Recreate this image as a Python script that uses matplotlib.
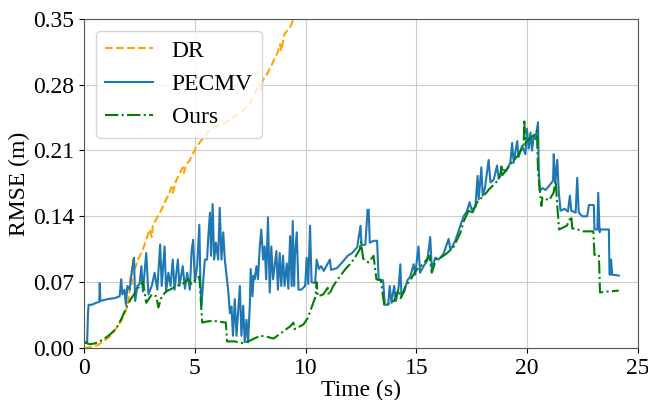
import numpy as np
import matplotlib
matplotlib.use('Agg')
import matplotlib.pyplot as plt

plt.rcParams['font.family'] = ['Liberation Serif', 'DejaVu Serif']
plt.rcParams['font.size'] = 17

# ---- data: (time s, RMSE m) ----
dr_pts = [
    (0.0, 0.0), (0.3, 0.001), (0.6, 0.003), (0.85, 0.007), (1.1, 0.011), (1.3, 0.016),
    (1.5, 0.023), (1.7, 0.030), (1.9, 0.041), (2.0, 0.050), (2.05, 0.062), (2.1, 0.076),
    (2.15, 0.068), (2.2, 0.094), (2.3, 0.085), (2.45, 0.095), (2.65, 0.105), (2.8, 0.115),
    (2.95, 0.126), (3.05, 0.118), (3.1, 0.130), (3.25, 0.137), (3.4, 0.143), (3.55, 0.150),
    (3.7, 0.158), (3.85, 0.165), (3.95, 0.171), (4.0, 0.165), (4.15, 0.178), (4.3, 0.185),
    (4.45, 0.192), (4.5, 0.186), (4.6, 0.195), (4.75, 0.199), (4.9, 0.206), (5.05, 0.213),
    (5.2, 0.218), (5.4, 0.224), (5.65, 0.231), (5.95, 0.236), (6.2, 0.238), (6.4, 0.240),
    (6.65, 0.244), (6.85, 0.247), (7.15, 0.252), (7.45, 0.259), (7.7, 0.270), (7.9, 0.281),
    (8.0, 0.275), (8.05, 0.284), (8.25, 0.291), (8.55, 0.305), (8.75, 0.315), (8.85, 0.323),
    (8.9, 0.316), (9.05, 0.334), (9.3, 0.341), (9.5, 0.352),
]

pecmv_pts = [
    (0.0, 0.006), (0.13, 0.006), (0.17, 0.038), (0.2, 0.046), (0.35, 0.046), (0.53, 0.048),
    (0.68, 0.049), (0.7, 0.069), (0.73, 0.050), (1.06, 0.052), (1.37, 0.053), (1.6, 0.055),
    (1.67, 0.073), (1.72, 0.057), (1.82, 0.062), (1.88, 0.046), (1.95, 0.066), (2.05, 0.062),
    (2.15, 0.082), (2.25, 0.096), (2.3, 0.050), (2.4, 0.066), (2.5, 0.068), (2.58, 0.087),
    (2.65, 0.060), (2.8, 0.101), (2.9, 0.057), (3.05, 0.066), (3.18, 0.080), (3.3, 0.062),
    (3.43, 0.110), (3.5, 0.066), (3.63, 0.108), (3.7, 0.060), (3.8, 0.080), (3.9, 0.066),
    (4.0, 0.094), (4.08, 0.062), (4.23, 0.094), (4.3, 0.066), (4.45, 0.087), (4.55, 0.063),
    (4.65, 0.080), (4.77, 0.062), (4.85, 0.103), (4.92, 0.115), (5.0, 0.070), (5.1, 0.087),
    (5.2, 0.131), (5.25, 0.066), (5.3, 0.045), (5.38, 0.073), (5.45, 0.094), (5.55, 0.094),
    (5.6, 0.117), (5.68, 0.144), (5.73, 0.098), (5.8, 0.153), (5.87, 0.094), (5.95, 0.112),
    (6.05, 0.094), (6.12, 0.149), (6.2, 0.094), (6.28, 0.123), (6.35, 0.094), (6.5, 0.062),
    (6.58, 0.037), (6.65, 0.044), (6.72, 0.013), (6.8, 0.052), (6.88, 0.013), (6.95, 0.037),
    (7.03, 0.066), (7.1, 0.013), (7.18, 0.045), (7.25, 0.006), (7.33, 0.030), (7.4, 0.006),
    (7.48, 0.045), (7.52, 0.084), (7.6, 0.055), (7.65, 0.077), (7.7, 0.073), (7.78, 0.087),
    (7.85, 0.073), (7.93, 0.108), (8.0, 0.126), (8.08, 0.094), (8.15, 0.108), (8.22, 0.073),
    (8.3, 0.139), (8.38, 0.059), (8.45, 0.108), (8.53, 0.073), (8.68, 0.103), (8.75, 0.062),
    (8.83, 0.101), (8.9, 0.066), (8.98, 0.098), (9.05, 0.066), (9.15, 0.090), (9.22, 0.063),
    (9.3, 0.119), (9.37, 0.066), (9.42, 0.135), (9.48, 0.066), (9.52, 0.098), (9.6, 0.123),
    (9.68, 0.062), (9.8, 0.062), (9.98, 0.066), (10.05, 0.096), (10.12, 0.068), (10.2, 0.130),
    (10.27, 0.070), (10.43, 0.069), (10.5, 0.094), (10.6, 0.084), (10.7, 0.087), (10.82, 0.082),
    (11.1, 0.094), (11.15, 0.083), (11.42, 0.085), (11.65, 0.091), (11.9, 0.098), (12.1, 0.101),
    (12.33, 0.107), (12.48, 0.130), (12.53, 0.109), (12.7, 0.110), (12.8, 0.147), (12.85, 0.147),
    (12.9, 0.112), (13.08, 0.114), (13.23, 0.114), (13.3, 0.073), (13.5, 0.072), (13.58, 0.046),
    (13.73, 0.046), (13.8, 0.066), (13.88, 0.048), (14.0, 0.066), (14.08, 0.050), (14.2, 0.064),
    (14.28, 0.089), (14.33, 0.055), (14.46, 0.060), (14.6, 0.072), (14.73, 0.076), (14.88, 0.089),
    (14.95, 0.078), (15.1, 0.108), (15.17, 0.080), (15.33, 0.087), (15.5, 0.093), (15.63, 0.118),
    (15.7, 0.084), (15.86, 0.096), (16.0, 0.094), (16.23, 0.100), (16.46, 0.116), (16.54, 0.104),
    (16.76, 0.114), (16.99, 0.130), (17.14, 0.140), (17.28, 0.145), (17.41, 0.155), (17.5, 0.147),
    (17.67, 0.150), (17.77, 0.183), (17.82, 0.158), (17.94, 0.192), (18.0, 0.162), (18.1, 0.170),
    (18.27, 0.200), (18.35, 0.176), (18.5, 0.179), (18.65, 0.194), (18.72, 0.180), (18.88, 0.190),
    (19.05, 0.188), (19.25, 0.197), (19.33, 0.218), (19.4, 0.197), (19.56, 0.220), (19.62, 0.203),
    (19.78, 0.215), (19.93, 0.206), (20.0, 0.233), (20.08, 0.212), (20.16, 0.229), (20.23, 0.210),
    (20.3, 0.225), (20.38, 0.222), (20.5, 0.240), (20.53, 0.194), (20.58, 0.167), (20.7, 0.170),
    (20.84, 0.168), (20.99, 0.172), (21.18, 0.178), (21.21, 0.206), (21.28, 0.175), (21.37, 0.200),
    (21.44, 0.165), (21.52, 0.146), (21.7, 0.148), (21.85, 0.145), (21.94, 0.162), (22.0, 0.146),
    (22.2, 0.144), (22.27, 0.181), (22.34, 0.144), (22.5, 0.140), (22.72, 0.140), (22.8, 0.152),
    (23.02, 0.152), (23.05, 0.126), (23.18, 0.126), (23.22, 0.165), (23.28, 0.123), (23.33, 0.126),
    (23.7, 0.126), (23.73, 0.078), (23.78, 0.078), (23.8, 0.094), (23.85, 0.078), (24.15, 0.077),
]

ours_pts = [
    (0.0, 0.006), (0.25, 0.004), (0.5, 0.005), (0.85, 0.009), (1.15, 0.014), (1.45, 0.021),
    (1.7, 0.032), (1.9, 0.043), (2.1, 0.052), (2.25, 0.057), (2.35, 0.062), (2.6, 0.068),
    (2.65, 0.071), (2.8, 0.048), (3.05, 0.057), (3.25, 0.055), (3.35, 0.043), (3.5, 0.055),
    (3.7, 0.060), (3.95, 0.063), (4.15, 0.066), (4.5, 0.069), (4.7, 0.073), (4.85, 0.068),
    (5.05, 0.073), (5.2, 0.076), (5.28, 0.045), (5.33, 0.027), (5.5, 0.028), (5.8, 0.029),
    (6.1, 0.028), (6.4, 0.027), (6.45, 0.007), (6.8, 0.007), (7.2, 0.005), (7.5, 0.008),
    (7.95, 0.013), (8.25, 0.012), (8.55, 0.010), (8.9, 0.016), (9.3, 0.023), (9.45, 0.027),
    (9.5, 0.020), (9.9, 0.025), (10.1, 0.032), (10.3, 0.045), (10.45, 0.055), (10.5, 0.070),
    (10.55, 0.055), (10.8, 0.057), (11.0, 0.064), (11.05, 0.056), (11.25, 0.066), (11.55, 0.076),
    (11.8, 0.084), (12.0, 0.089), (12.2, 0.095), (12.45, 0.105), (12.5, 0.113), (12.6, 0.095),
    (12.84, 0.091), (13.07, 0.098), (13.2, 0.073), (13.4, 0.072), (13.55, 0.046), (13.75, 0.047),
    (14.0, 0.050), (14.2, 0.062), (14.3, 0.053), (14.5, 0.065), (14.75, 0.073), (14.9, 0.079),
    (15.05, 0.084), (15.3, 0.089), (15.6, 0.098), (15.7, 0.080), (15.9, 0.095), (16.1, 0.096),
    (16.4, 0.101), (16.7, 0.108), (17.0, 0.123), (17.15, 0.135), (17.4, 0.148), (17.5, 0.142),
    (17.75, 0.155), (18.05, 0.162), (18.3, 0.169), (18.6, 0.176), (18.8, 0.183), (18.85, 0.195),
    (18.9, 0.184), (19.25, 0.195), (19.6, 0.205), (19.85, 0.215), (19.88, 0.243), (19.92, 0.218),
    (20.1, 0.222), (20.3, 0.226), (20.45, 0.231), (20.5, 0.188), (20.55, 0.175), (20.65, 0.151),
    (20.7, 0.160), (21.0, 0.157), (21.2, 0.165), (21.3, 0.178), (21.35, 0.158), (21.45, 0.126),
    (21.8, 0.130), (22.0, 0.140), (22.05, 0.127), (22.2, 0.127), (22.5, 0.124), (23.0, 0.124),
    (23.05, 0.099), (23.25, 0.099), (23.3, 0.059), (23.6, 0.060), (24.15, 0.061),
]

x_ticks = [0, 5, 10, 15, 20, 25]
y_ticks = [0.00, 0.07, 0.14, 0.21, 0.28, 0.35]

dr_t, dr_v = np.array(dr_pts).T
pecmv_t, pecmv_v = np.array(pecmv_pts).T
ours_t, ours_v = np.array(ours_pts).T

fig, ax = plt.subplots(figsize=(6.48, 4.0), dpi=100)
fig.subplots_adjust(left=0.130, right=0.984, top=0.953, bottom=0.130)

ax.plot(dr_t, dr_v, '--', color='orange', lw=1.5, label='DR')
ax.plot(pecmv_t, pecmv_v, '-', color='#1f77b4', lw=1.5, label='PECMV')
ax.plot(ours_t, ours_v, '-.', color='green', lw=1.5, label='Ours')

ax.set_xlim(0, 25)
ax.set_ylim(0, 0.35)
ax.set_xticks(x_ticks)
ax.set_yticks(y_ticks)
ax.set_yticklabels([f'{v:.2f}' for v in y_ticks])
ax.set_xlabel('Time (s)', labelpad=1)
ax.set_ylabel('RMSE (m)', labelpad=2)
ax.grid(True, color='#cccccc', lw=0.8)
for s in ax.spines.values():
    s.set_color('#555555')

ax.legend(loc='upper left', fontsize=17)

fig.savefig('out.png', dpi=100)
